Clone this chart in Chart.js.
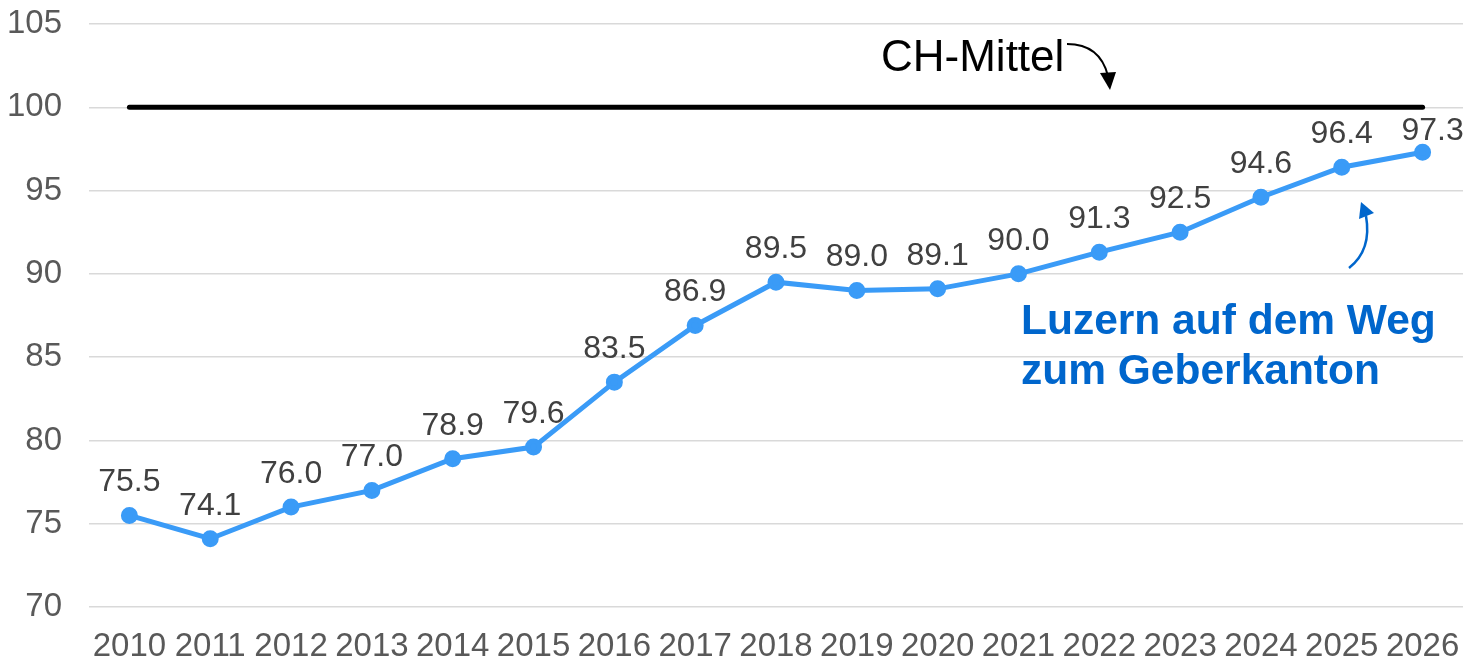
<!DOCTYPE html>
<html>
<head>
<meta charset="utf-8">
<script src="https://cdn.jsdelivr.net/npm/chart.js@4"></script>
<style>
  html, body { margin: 0; padding: 0; background: #fff; }
  #wrap { width: 1466px; height: 657px; }
</style>
</head>
<body>
<div id="wrap"><canvas id="chart" width="1466" height="657"></canvas></div>
<script>
// Daten
const years = ['2010', '2011', '2012', '2013', '2014', '2015', '2016', '2017', '2018',
    '2019', '2020', '2021', '2022', '2023', '2024', '2025', '2026'];
const luzern = [75.5, 74.1, 76.0, 77.0, 78.9, 79.6, 83.5, 86.9, 89.5,
    89.0, 89.1, 90.0, 91.3, 92.5, 94.6, 96.4, 97.3];
const chMittel = [100, 100, 100, 100, 100, 100, 100, 100, 100,
    100, 100, 100, 100, 100, 100, 100, 100];
const yTicks = [70, 75, 80, 85, 90, 95, 100, 105];

const FONT = "'Liberation Sans', Arial, sans-serif";

// Wertebeschriftung über den Punkten
const valueLabels = {
    id: 'valueLabels',
    afterDatasetsDraw(chart) {
        const ctx = chart.ctx;
        const meta = chart.getDatasetMeta(0);
        const last = meta.data.length - 1;
        ctx.save();
        ctx.font = '32px ' + FONT;
        ctx.fillStyle = '#404040';
        ctx.textAlign = 'center';
        ctx.textBaseline = 'middle';
        meta.data.forEach((pt, i) => {
            const txt = luzern[i].toFixed(1);
            // letzter Wert etwas nach rechts versetzt, wie im Original
            const dx = i === last ? 10 : 0;
            const dy = i === last ? 21 : 33;
            ctx.fillText(txt, pt.x + dx, pt.y - dy);
        });
        ctx.restore();
    }
};

// Texte und Pfeile
const notes = {
    id: 'notes',
    afterDraw(chart) {
        const ctx = chart.ctx;
        ctx.save();

        // CH-Mittel
        ctx.font = '44px ' + FONT;
        ctx.fillStyle = '#000';
        ctx.textAlign = 'left';
        ctx.textBaseline = 'alphabetic';
        ctx.fillText('CH-Mittel', 881, 71);

        ctx.strokeStyle = '#000';
        ctx.lineWidth = 2;
        ctx.beginPath();
        ctx.moveTo(1067, 44);
        ctx.quadraticCurveTo(1100, 44, 1108, 76);
        ctx.stroke();
        ctx.fillStyle = '#000';
        ctx.beginPath();
        ctx.moveTo(1110, 90);
        ctx.lineTo(1100, 73);
        ctx.lineTo(1116, 72);
        ctx.closePath();
        ctx.fill();

        // Luzern
        ctx.font = 'bold 42.5px ' + FONT;
        ctx.fillStyle = '#0066CC';
        ctx.fillText('Luzern auf dem Weg', 1021, 334);
        ctx.fillText('zum Geberkanton', 1021, 384);

        ctx.strokeStyle = '#0066CC';
        ctx.lineWidth = 2.5;
        ctx.beginPath();
        ctx.moveTo(1349, 268);
        ctx.quadraticCurveTo(1372, 250, 1366, 216);
        ctx.stroke();
        ctx.fillStyle = '#0066CC';
        ctx.beginPath();
        ctx.moveTo(1361, 202);
        ctx.lineTo(1359, 219);
        ctx.lineTo(1374, 213);
        ctx.closePath();
        ctx.fill();

        ctx.restore();
    }
};

new Chart(document.getElementById('chart'), {
    type: 'line',
    data: {
        labels: years,
        datasets: [
            {
                label: 'Luzern',
                data: luzern,
                borderColor: '#3A9BF7',
                backgroundColor: '#3A9BF7',
                borderWidth: 5,
                pointRadius: 6,
                pointHoverRadius: 6,
                tension: 0
            },
            {
                label: 'CH-Mittel',
                data: chMittel,
                borderColor: '#000000',
                borderWidth: 5,
                borderCapStyle: 'round',
                pointRadius: 0,
                tension: 0
            }
        ]
    },
    options: {
        responsive: false,
        animation: false,
        layout: { autoPadding: false, padding: { top: 24, right: 3, left: 0, bottom: 0 } },
        plugins: {
            legend: { display: false },
            tooltip: { enabled: false }
        },
        scales: {
            x: {
                offset: true,
                grid: { display: false, drawTicks: false },
                border: { display: false },
                ticks: {
                    color: '#595959',
                    font: { family: FONT, size: 33, lineHeight: 2.4 },
                    padding: 0,
                    maxRotation: 0,
                    autoSkip: false
                },
                afterFit(scale) {
                    scale.height = 50;
                }
            },
            y: {
                min: 70,
                max: 105,
                afterBuildTicks(scale) {
                    scale.ticks = yTicks.map(v => ({ value: v }));
                },
                grid: { color: '#D9D9D9', lineWidth: 1.5, drawTicks: false },
                border: { display: false },
                ticks: {
                    color: '#595959',
                    font: { family: FONT, size: 33 },
                    padding: 27
                },
                afterFit(scale) {
                    scale.width = 89;
                    scale.paddingTop = 0;
                    scale.paddingBottom = 0;
                }
            }
        }
    },
    plugins: [valueLabels, notes]
});
</script>
</body>
</html>
